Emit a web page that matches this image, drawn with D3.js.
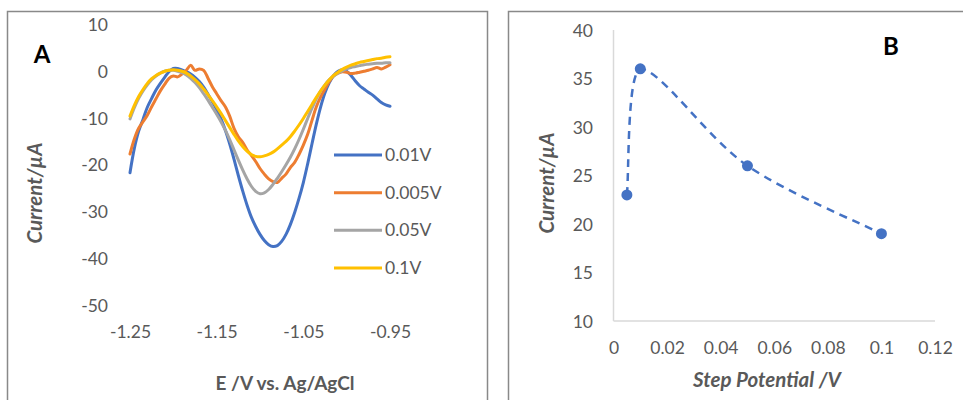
<!DOCTYPE html>
<html>
<head>
<meta charset="utf-8">
<script src="https://cdn.jsdelivr.net/npm/d3@7"></script>
<style>
  html, body { margin: 0; padding: 0; background: #ffffff; }
  svg { display: block; }
  text { font-family: Lato, "Open Sans", sans-serif; }
</style>
</head>
<body>
<svg id="chart" width="963" height="400"></svg>
<script>
// ---- Panel A: square-wave voltammograms at different step potentials ----
const potentials = d3.range(0, 61).map(i => +(-1.25 + i * 0.005).toFixed(3));

const current001 = [
  -21.7, -16.5, -12.8, -10.3, -7.7, -5.8, -4.0, -2.6, -1.3, -0.1,
  0.6, 0.6, 0.3, -0.1, -0.6, -1.3, -2.2, -3.4, -4.9, -6.5,
  -8.2, -10.2, -12.6, -15.5, -18.8, -22.3, -25.6, -28.6, -31.2, -33.2,
  -34.9, -36.2, -37.1, -37.5, -37.3, -36.4, -34.9, -32.8, -30.2, -27.2,
  -23.8, -19.8, -15.5, -11.3, -7.6, -4.6, -2.4, -0.9, 0.0, 0.3,
  0.0, -0.9, -2.1, -3.1, -3.8, -4.5, -5.1, -5.9, -6.7, -7.2, -7.5
];
const current0005 = [
  -17.7, -14.5, -12.2, -10.8, -9.4, -7.6, -5.9, -4.2, -2.8, -1.5,
  -1.0, -1.2, -0.6, 0.2, 1.3, 0.2, 0.5, 0.2, -1.5, -3.3,
  -4.8, -6.3, -7.6, -9.6, -12.2, -14.0, -15.2, -16.8, -18.0, -19.3,
  -20.8, -22.0, -23.0, -23.6, -23.8, -22.9, -22.0, -20.6, -19.5, -17.8,
  -15.8, -13.5, -10.5, -7.6, -5.5, -3.8, -2.2, -1.0, -0.4, -0.1,
  -0.2, -0.5, -0.4, -0.2, 0.0, 0.2, 0.5, 0.8, 0.5, 0.9, 1.4
];
const current005 = [
  -10.2, -7.8, -5.8, -4.2, -2.9, -1.8, -1.0, -0.4, 0.0, 0.2,
  0.2, 0.0, -0.3, -0.8, -1.5, -2.4, -3.5, -4.8, -6.2, -7.7,
  -9.2, -10.8, -12.6, -14.6, -16.8, -19.0, -21.1, -23.0, -24.6, -25.7,
  -26.2, -26.0, -25.3, -24.2, -22.9, -21.5, -20.0, -18.4, -16.6, -14.6,
  -12.4, -10.1, -7.9, -5.9, -4.2, -2.9, -1.8, -1.0, -0.4, 0.1,
  0.5, 0.8, 1.0, 1.2, 1.4, 1.5, 1.6, 1.7, 1.7, 1.8, 1.8
];
const current01 = [
  -9.6, -7.3, -5.4, -3.9, -2.6, -1.6, -0.9, -0.4, 0.0, 0.2,
  0.3, 0.2, 0.0, -0.4, -1.0, -1.8, -2.7, -3.8, -5.0, -6.3,
  -7.6, -9.0, -10.5, -12.0, -13.5, -14.9, -16.1, -17.1, -17.8, -18.2,
  -18.3, -18.1, -17.8, -17.3, -16.6, -15.8, -15.0, -14.0, -12.8, -11.5,
  -10.1, -8.6, -7.1, -5.6, -4.2, -2.9, -1.8, -0.9, -0.2, 0.4,
  0.9, 1.3, 1.6, 1.9, 2.1, 2.3, 2.5, 2.7, 2.8, 3.0, 3.1
];

const seriesNames = ["0.01V", "0.005V", "0.05V", "0.1V"];
const seriesColors = ["#4472C4", "#ED7D31", "#A5A5A5", "#FFC000"];
const seriesValues = [current001, current0005, current005, current01];

const xTicksA = [-1.25, -1.15, -1.05, -0.95];
const yTicksA = [10, 0, -10, -20, -30, -40, -50];

// ---- Panel B: peak current versus step potential ----
const stepPotentials = [0.005, 0.01, 0.05, 0.1];
const peakCurrents = [23, 36, 26, 19];
const xTicksB = [0, 0.02, 0.04, 0.06, 0.08, 0.1, 0.12];
const yTicksB = [10, 15, 20, 25, 30, 35, 40];

const svg = d3.select("#chart");
const textGray = "#595959";
const borderGray = "#898989";
const hyphen = s => s.replace("\u2212", "-");

// Smoothed line: Catmull-Rom style Bezier segments whose control points are
// kept inside each segment's bounding box (spreadsheet-like smoothing).
function boxedSmooth(context) {
  let pts = [];
  return {
    areaStart() {}, areaEnd() {},
    lineStart() { pts = []; },
    point(x, y) { pts.push([+x, +y]); },
    lineEnd() {
      const n = pts.length;
      if (!n) return;
      context.moveTo(pts[0][0], pts[0][1]);
      for (let i = 0; i < n - 1; i++) {
        const p0 = pts[i - 1] || pts[i], p1 = pts[i], p2 = pts[i + 1], p3 = pts[i + 2] || pts[i + 1];
        const clamp = (v, a, b) => Math.max(Math.min(a, b), Math.min(Math.max(a, b), v));
        const c1 = [clamp(p1[0] + (p2[0] - p0[0]) / 6, p1[0], p2[0]), clamp(p1[1] + (p2[1] - p0[1]) / 6, p1[1], p2[1])];
        const c2 = [clamp(p2[0] - (p3[0] - p1[0]) / 6, p1[0], p2[0]), clamp(p2[1] - (p3[1] - p1[1]) / 6, p1[1], p2[1])];
        context.bezierCurveTo(c1[0], c1[1], c2[0], c2[1], p2[0], p2[1]);
      }
    }
  };
}

svg.append("rect").attr("width", 963).attr("height", 400).attr("fill", "#ffffff");

// panel frames
svg.append("rect").attr("x", 7.5).attr("y", 11.5).attr("width", 480).attr("height", 400)
  .attr("fill", "none").attr("stroke", borderGray).attr("stroke-width", 1.5);
svg.append("rect").attr("x", 508.5).attr("y", 11.5).attr("width", 470).attr("height", 400)
  .attr("fill", "none").attr("stroke", borderGray).attr("stroke-width", 1.5);

// ===== Panel A =====
const xA = d3.scaleLinear().domain([-1.25, -0.95]).range([130, 390]);
const yA = d3.scaleLinear().domain([-50, 10]).range([305, 24.5]);

const gA = svg.append("g");

const yAxisA = d3.axisLeft(yA).tickValues(yTicksA).tickSize(0).tickPadding(0)
  .tickFormat(d => hyphen(d3.format("d")(d)));
gA.append("g").attr("transform", "translate(108,0)").call(yAxisA)
  .call(g => g.select(".domain").remove())
  .selectAll("text").attr("fill", textGray).attr("font-size", 17.5).attr("dy", "0.35em").attr("x", 0);

const xAxisA = d3.axisBottom(xA).tickValues(xTicksA).tickSize(0).tickPadding(0)
  .tickFormat(d => hyphen(d3.format(".2f")(d)));
gA.append("g").attr("transform", "translate(0,332)").call(xAxisA)
  .call(g => g.select(".domain").remove())
  .selectAll("text").attr("fill", textGray).attr("font-size", 17.5).attr("dy", "0.35em").attr("y", 0);

const lineA = (vals) => d3.line()
  .x((d, i) => xA(potentials[i]))
  .y(d => yA(d))
  .curve(d3.curveCatmullRom.alpha(0.5))(vals);

gA.append("g").selectAll("path").data(seriesValues).join("path")
  .attr("d", d => lineA(d))
  .attr("fill", "none")
  .attr("stroke", (d, i) => seriesColors[i])
  .attr("stroke-width", 3)
  .attr("stroke-linejoin", "round")
  .attr("stroke-linecap", "round");

// legend
const legend = gA.append("g");
const legendY = d3.scaleLinear().domain([0, 3]).range([155, 268]);
seriesNames.forEach((name, i) => {
  legend.append("line").attr("x1", 334).attr("x2", 382)
    .attr("y1", legendY(i)).attr("y2", legendY(i))
    .attr("stroke", seriesColors[i]).attr("stroke-width", 3);
  legend.append("text").attr("x", 385).attr("y", legendY(i)).attr("dy", "0.35em")
    .attr("font-size", 17.5).attr("fill", textGray).text(name);
});

gA.append("text").attr("transform", "translate(35,193) rotate(-90)")
  .attr("text-anchor", "middle").attr("dy", "0.35em")
  .attr("font-size", 20.5).attr("font-weight", "bold").attr("font-style", "italic")
  .attr("fill", textGray).text("Current/µA");

gA.append("text").attr("x", 285).attr("y", 383).attr("dy", "0.35em")
  .attr("text-anchor", "middle").attr("font-size", 19).attr("font-weight", "bold")
  .attr("fill", textGray).text("E /V vs. Ag/AgCl");

gA.append("text").attr("x", 42).attr("y", 54.5).attr("dy", "0.35em")
  .attr("text-anchor", "middle").attr("font-size", 24).attr("font-weight", "bold")
  .attr("fill", "#000000").text("A");

// ===== Panel B =====
const xB = d3.scaleLinear().domain([0, 0.12]).range([613.5, 935]);
const yB = d3.scaleLinear().domain([10, 40]).range([321, 30]);
const gB = svg.append("g");

gB.append("line").attr("x1", xB(0)).attr("x2", xB(0)).attr("y1", yB(40)).attr("y2", yB(10))
  .attr("stroke", "#d9d9d9").attr("stroke-width", 1.5);
gB.append("line").attr("x1", xB(0)).attr("x2", xB(0.12)).attr("y1", yB(10)).attr("y2", yB(10))
  .attr("stroke", "#d9d9d9").attr("stroke-width", 1.5);

const yAxisB = d3.axisLeft(yB).tickValues(yTicksB).tickSize(0).tickPadding(0);
gB.append("g").attr("transform", "translate(593,0)").call(yAxisB)
  .call(g => g.select(".domain").remove())
  .selectAll("text").attr("fill", textGray).attr("font-size", 17.5).attr("dy", "0.35em").attr("x", 0);

const xAxisB = d3.axisBottom(xB).tickValues(xTicksB).tickSize(0).tickPadding(0).tickFormat(d => String(+d.toFixed(2)));
gB.append("g").attr("transform", "translate(0,348)").call(xAxisB)
  .call(g => g.select(".domain").remove())
  .selectAll("text").attr("fill", textGray).attr("font-size", 17.5).attr("dy", "0.35em").attr("y", 0);

const pointsB = stepPotentials.map((x, i) => [x, peakCurrents[i]]);
gB.append("path")
  .attr("d", d3.line().x(d => xB(d[0])).y(d => yB(d[1])).curve(boxedSmooth)(pointsB))
  .attr("fill", "none").attr("stroke", "#4472C4").attr("stroke-width", 2.5)
  .attr("stroke-dasharray", "8,6");

gB.append("g").selectAll("circle").data(pointsB).join("circle")
  .attr("cx", d => xB(d[0])).attr("cy", d => yB(d[1])).attr("r", 5.5)
  .attr("fill", "#4472C4");

gB.append("text").attr("transform", "translate(547,183) rotate(-90)")
  .attr("text-anchor", "middle").attr("dy", "0.35em")
  .attr("font-size", 20.5).attr("font-weight", "bold").attr("font-style", "italic")
  .attr("fill", textGray).text("Current/µA");

gB.append("text").attr("x", 767).attr("y", 380).attr("dy", "0.35em")
  .attr("text-anchor", "middle").attr("font-size", 20.5).attr("font-weight", "bold").attr("font-style", "italic")
  .attr("fill", textGray).text("Step Potential /V");

gB.append("text").attr("x", 891).attr("y", 47).attr("dy", "0.35em")
  .attr("text-anchor", "middle").attr("font-size", 24).attr("font-weight", "bold")
  .attr("fill", "#000000").text("B");
</script>
</body>
</html>
